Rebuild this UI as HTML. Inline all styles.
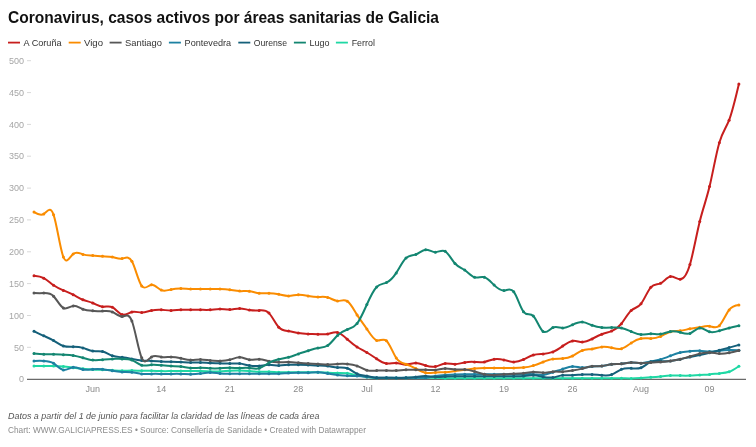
<!DOCTYPE html>
<html><head><meta charset="utf-8"><style>
html,body{margin:0;padding:0;background:#fff;width:756px;height:447px;overflow:hidden}
svg{display:block;will-change:transform;font-family:"Liberation Sans",sans-serif}
.yl{font-size:9px;fill:#a6a6a6;text-anchor:end}
.xl{font-size:9px;fill:#8a8a8a;text-anchor:middle}
.tk{stroke:#d9d9d9;stroke-width:1}
.lg{font-size:9.2px;fill:#333}
.ti{font-size:16px;font-weight:bold;fill:#111}
.no{font-size:9px;font-style:italic;fill:#555}
.cr{font-size:8.4px;fill:#8c8c8c}
</style></head><body>
<svg width="756" height="447" viewBox="0 0 756 447">
<text x="24" y="382.4" class="yl">0</text>
<text x="24" y="350.5" class="yl">50</text>
<line x1="27" x2="31" y1="347.3" y2="347.3" class="tk"/>
<text x="24" y="318.7" class="yl">100</text>
<line x1="27" x2="31" y1="315.5" y2="315.5" class="tk"/>
<text x="24" y="286.8" class="yl">150</text>
<line x1="27" x2="31" y1="283.6" y2="283.6" class="tk"/>
<text x="24" y="255.0" class="yl">200</text>
<line x1="27" x2="31" y1="251.8" y2="251.8" class="tk"/>
<text x="24" y="223.1" class="yl">250</text>
<line x1="27" x2="31" y1="219.9" y2="219.9" class="tk"/>
<text x="24" y="191.3" class="yl">300</text>
<line x1="27" x2="31" y1="188.1" y2="188.1" class="tk"/>
<text x="24" y="159.4" class="yl">350</text>
<line x1="27" x2="31" y1="156.2" y2="156.2" class="tk"/>
<text x="24" y="127.6" class="yl">400</text>
<line x1="27" x2="31" y1="124.4" y2="124.4" class="tk"/>
<text x="24" y="95.8" class="yl">450</text>
<line x1="27" x2="31" y1="92.6" y2="92.6" class="tk"/>
<text x="24" y="63.9" class="yl">500</text>
<line x1="27" x2="31" y1="60.7" y2="60.7" class="tk"/>
<text x="92.7" y="392" class="xl">Jun</text>
<text x="161.3" y="392" class="xl">14</text>
<text x="229.8" y="392" class="xl">21</text>
<text x="298.3" y="392" class="xl">28</text>
<text x="366.9" y="392" class="xl">Jul</text>
<text x="435.4" y="392" class="xl">12</text>
<text x="503.9" y="392" class="xl">19</text>
<text x="572.5" y="392" class="xl">26</text>
<text x="641.0" y="392" class="xl">Aug</text>
<text x="709.5" y="392" class="xl">09</text>
<line x1="27" x2="746" y1="379.4" y2="379.4" stroke="#6a6a6a" stroke-width="1.2"/>
<path d="M34.00,366.10C37.26,366.10,40.53,366.10,43.79,366.10C47.05,366.10,50.32,366.09,53.58,366.10C56.84,366.11,60.11,366.12,63.37,366.40C66.63,366.68,69.90,367.22,73.16,367.66C76.42,368.10,79.69,368.45,82.95,368.76C86.21,369.07,89.48,369.33,92.74,369.50C96.01,369.67,99.27,369.75,102.53,369.85C105.80,369.95,109.06,370.09,112.32,370.30C115.59,370.51,118.85,370.80,122.11,370.80C125.38,370.80,128.64,370.52,131.90,370.50C135.17,370.48,138.43,370.73,141.69,370.80C144.96,370.87,148.22,370.76,151.48,370.80C154.75,370.84,158.01,371.03,161.27,371.10C164.54,371.17,167.80,371.12,171.06,371.10C174.33,371.08,177.59,371.09,180.85,371.10C184.12,371.11,187.38,371.12,190.64,371.10C193.91,371.08,197.17,371.04,200.43,371.10C203.70,371.16,206.96,371.31,210.22,371.40C213.49,371.49,216.75,371.53,220.02,371.40C223.28,371.27,226.54,370.98,229.81,370.80C233.07,370.62,236.33,370.54,239.60,370.60C242.86,370.66,246.12,370.86,249.39,371.10C252.65,371.34,255.91,371.63,259.18,371.70C262.44,371.77,265.70,371.62,268.97,371.70C272.23,371.78,275.49,372.09,278.76,372.20C282.02,372.31,285.28,372.23,288.55,372.20C291.81,372.17,295.07,372.19,298.34,372.20C301.60,372.21,304.86,372.23,308.13,372.20C311.39,372.17,314.65,372.11,317.92,372.20C321.18,372.29,324.44,372.52,327.71,372.70C330.97,372.88,334.24,372.99,337.50,373.00C340.76,373.01,344.03,372.90,347.29,373.30C350.55,373.70,353.82,374.62,357.08,375.30C360.34,375.98,363.61,376.44,366.87,376.90C370.13,377.36,373.40,377.83,376.66,378.00C379.92,378.17,383.19,378.05,386.45,378.00C389.71,377.95,392.98,377.97,396.24,378.00C399.50,378.03,402.77,378.07,406.03,378.00C409.29,377.93,412.56,377.75,415.82,377.70C419.08,377.65,422.35,377.71,425.61,377.70C428.87,377.69,432.14,377.60,435.40,377.70C438.66,377.80,441.93,378.09,445.19,378.20C448.46,378.31,451.72,378.23,454.98,378.20C458.25,378.17,461.51,378.19,464.77,378.20C468.04,378.21,471.30,378.20,474.56,378.20C477.83,378.20,481.09,378.20,484.35,378.20C487.62,378.20,490.88,378.20,494.14,378.20C497.41,378.20,500.67,378.20,503.93,378.20C507.20,378.20,510.46,378.20,513.72,378.20C516.99,378.20,520.25,378.20,523.51,378.20C526.78,378.20,530.04,378.20,533.30,378.20C536.57,378.20,539.83,378.20,543.09,378.20C546.36,378.20,549.62,378.20,552.88,378.20C556.15,378.20,559.41,378.20,562.67,378.20C565.94,378.20,569.20,378.20,572.47,378.20C575.73,378.20,578.99,378.20,582.26,378.20C585.52,378.20,588.78,378.20,592.05,378.20C595.31,378.20,598.57,378.20,601.84,378.20C605.10,378.20,608.36,378.22,611.63,378.20C614.89,378.18,618.15,378.14,621.42,378.20C624.68,378.26,627.94,378.43,631.21,378.40C634.47,378.37,637.73,378.13,641.00,377.90C644.26,377.67,647.52,377.44,650.79,377.20C654.05,376.96,657.31,376.70,660.58,376.40C663.84,376.10,667.10,375.74,670.37,375.60C673.63,375.46,676.89,375.53,680.16,375.60C683.42,375.67,686.69,375.74,689.95,375.60C693.21,375.46,696.48,375.10,699.74,374.90C703.00,374.70,706.27,374.65,709.53,374.40C712.79,374.15,716.06,373.69,719.32,373.40C722.58,373.11,725.85,372.97,729.11,371.80C732.37,370.63,735.64,368.41,738.90,366.20" fill="none" stroke="#1fd8a4" stroke-width="2" stroke-linejoin="round" stroke-linecap="round"/>
<g fill="#1fd8a4"><circle cx="34.00" cy="366.10" r="1.5"/><circle cx="43.79" cy="366.10" r="1.5"/><circle cx="53.58" cy="366.10" r="1.5"/><circle cx="63.37" cy="366.40" r="1.5"/><circle cx="73.16" cy="367.66" r="1.5"/><circle cx="82.95" cy="368.76" r="1.5"/><circle cx="92.74" cy="369.50" r="1.5"/><circle cx="102.53" cy="369.85" r="1.5"/><circle cx="112.32" cy="370.30" r="1.5"/><circle cx="122.11" cy="370.80" r="1.5"/><circle cx="131.90" cy="370.50" r="1.5"/><circle cx="141.69" cy="370.80" r="1.5"/><circle cx="151.48" cy="370.80" r="1.5"/><circle cx="161.27" cy="371.10" r="1.5"/><circle cx="171.06" cy="371.10" r="1.5"/><circle cx="180.85" cy="371.10" r="1.5"/><circle cx="190.64" cy="371.10" r="1.5"/><circle cx="200.43" cy="371.10" r="1.5"/><circle cx="210.22" cy="371.40" r="1.5"/><circle cx="220.02" cy="371.40" r="1.5"/><circle cx="229.81" cy="370.80" r="1.5"/><circle cx="239.60" cy="370.60" r="1.5"/><circle cx="249.39" cy="371.10" r="1.5"/><circle cx="259.18" cy="371.70" r="1.5"/><circle cx="268.97" cy="371.70" r="1.5"/><circle cx="278.76" cy="372.20" r="1.5"/><circle cx="288.55" cy="372.20" r="1.5"/><circle cx="298.34" cy="372.20" r="1.5"/><circle cx="308.13" cy="372.20" r="1.5"/><circle cx="317.92" cy="372.20" r="1.5"/><circle cx="327.71" cy="372.70" r="1.5"/><circle cx="337.50" cy="373.00" r="1.5"/><circle cx="347.29" cy="373.30" r="1.5"/><circle cx="357.08" cy="375.30" r="1.5"/><circle cx="366.87" cy="376.90" r="1.5"/><circle cx="376.66" cy="378.00" r="1.5"/><circle cx="386.45" cy="378.00" r="1.5"/><circle cx="396.24" cy="378.00" r="1.5"/><circle cx="406.03" cy="378.00" r="1.5"/><circle cx="415.82" cy="377.70" r="1.5"/><circle cx="425.61" cy="377.70" r="1.5"/><circle cx="435.40" cy="377.70" r="1.5"/><circle cx="445.19" cy="378.20" r="1.5"/><circle cx="454.98" cy="378.20" r="1.5"/><circle cx="464.77" cy="378.20" r="1.5"/><circle cx="474.56" cy="378.20" r="1.5"/><circle cx="484.35" cy="378.20" r="1.5"/><circle cx="494.14" cy="378.20" r="1.5"/><circle cx="503.93" cy="378.20" r="1.5"/><circle cx="513.72" cy="378.20" r="1.5"/><circle cx="523.51" cy="378.20" r="1.5"/><circle cx="533.30" cy="378.20" r="1.5"/><circle cx="543.09" cy="378.20" r="1.5"/><circle cx="552.88" cy="378.20" r="1.5"/><circle cx="562.67" cy="378.20" r="1.5"/><circle cx="572.47" cy="378.20" r="1.5"/><circle cx="582.26" cy="378.20" r="1.5"/><circle cx="592.05" cy="378.20" r="1.5"/><circle cx="601.84" cy="378.20" r="1.5"/><circle cx="611.63" cy="378.20" r="1.5"/><circle cx="621.42" cy="378.20" r="1.5"/><circle cx="631.21" cy="378.40" r="1.5"/><circle cx="641.00" cy="377.90" r="1.5"/><circle cx="650.79" cy="377.20" r="1.5"/><circle cx="660.58" cy="376.40" r="1.5"/><circle cx="670.37" cy="375.60" r="1.5"/><circle cx="680.16" cy="375.60" r="1.5"/><circle cx="689.95" cy="375.60" r="1.5"/><circle cx="699.74" cy="374.90" r="1.5"/><circle cx="709.53" cy="374.40" r="1.5"/><circle cx="719.32" cy="373.40" r="1.5"/><circle cx="729.11" cy="371.80" r="1.5"/><circle cx="738.90" cy="366.20" r="1.5"/></g>
<path d="M34.00,275.85C37.26,276.17,40.53,276.49,43.79,278.20C47.05,279.91,50.32,283.02,53.58,285.30C56.84,287.58,60.11,289.04,63.37,290.40C66.63,291.76,69.90,293.02,73.16,294.70C76.42,296.38,79.69,298.47,82.95,299.80C86.21,301.13,89.48,301.68,92.74,303.00C96.01,304.32,99.27,306.39,102.53,306.70C105.80,307.01,109.06,305.55,112.32,307.20C115.59,308.85,118.85,313.62,122.11,314.60C125.38,315.58,128.64,312.77,131.90,312.00C135.17,311.23,138.43,312.50,141.69,312.50C144.96,312.50,148.22,311.22,151.48,310.50C154.75,309.78,158.01,309.62,161.27,309.80C164.54,309.98,167.80,310.50,171.06,310.50C174.33,310.50,177.59,309.98,180.85,309.80C184.12,309.62,187.38,309.77,190.64,309.80C193.91,309.83,197.17,309.75,200.43,309.80C203.70,309.85,206.96,310.05,210.22,309.80C213.49,309.55,216.75,308.85,220.02,308.90C223.28,308.95,226.54,309.74,229.81,309.60C233.07,309.46,236.33,308.40,239.60,308.40C242.86,308.40,246.12,309.45,249.39,310.00C252.65,310.55,255.91,310.60,259.18,310.40C262.44,310.20,265.70,309.74,268.97,313.10C272.23,316.46,275.49,323.65,278.76,327.20C282.02,330.75,285.28,330.68,288.55,331.10C291.81,331.52,295.07,332.43,298.34,333.00C301.60,333.57,304.86,333.78,308.13,333.90C311.39,334.02,314.65,334.04,317.92,334.20C321.18,334.36,324.44,334.65,327.71,334.00C330.97,333.35,334.24,331.77,337.50,332.50C340.76,333.23,344.03,336.29,347.29,339.20C350.55,342.11,353.82,344.87,357.08,347.00C360.34,349.13,363.61,350.62,366.87,352.50C370.13,354.38,373.40,356.64,376.66,358.80C379.92,360.96,383.19,363.03,386.45,363.50C389.71,363.97,392.98,362.83,396.24,363.00C399.50,363.17,402.77,364.63,406.03,364.60C409.29,364.57,412.56,363.03,415.82,363.00C419.08,362.97,422.35,364.45,425.61,365.50C428.87,366.55,432.14,367.16,435.40,366.50C438.66,365.84,441.93,363.90,445.19,363.50C448.46,363.10,451.72,364.22,454.98,364.20C458.25,364.18,461.51,363.01,464.77,362.40C468.04,361.79,471.30,361.73,474.56,361.90C477.83,362.07,481.09,362.48,484.35,361.90C487.62,361.32,490.88,359.75,494.14,359.20C497.41,358.65,500.67,359.11,503.93,359.90C507.20,360.69,510.46,361.82,513.72,361.90C516.99,361.98,520.25,361.00,523.51,359.50C526.78,358.00,530.04,355.97,533.30,355.00C536.57,354.03,539.83,354.10,543.09,353.90C546.36,353.70,549.62,353.22,552.88,351.90C556.15,350.58,559.41,348.41,562.67,346.10C565.94,343.79,569.20,341.36,572.47,340.90C575.73,340.44,578.99,341.97,582.26,342.00C585.52,342.03,588.78,340.55,592.05,338.90C595.31,337.25,598.57,335.41,601.84,334.20C605.10,332.99,608.36,332.40,611.63,331.10C614.89,329.80,618.15,327.80,621.42,323.70C624.68,319.60,627.94,313.41,631.21,310.50C634.47,307.59,637.73,307.95,641.00,303.80C644.26,299.65,647.52,290.98,650.79,287.30C654.05,283.62,657.31,284.91,660.58,283.30C663.84,281.69,667.10,277.17,670.37,276.60C673.63,276.03,676.89,279.41,680.16,279.30C683.42,279.19,686.69,275.60,689.95,264.50C693.21,253.40,696.48,234.80,699.74,221.50C703.00,208.20,706.27,200.20,709.53,186.60C712.79,173.00,716.06,153.80,719.32,142.70C722.58,131.60,725.85,128.62,729.11,120.20C732.37,111.78,735.64,97.94,738.90,84.10" fill="none" stroke="#c71e1d" stroke-width="2" stroke-linejoin="round" stroke-linecap="round"/>
<g fill="#c71e1d"><circle cx="34.00" cy="275.85" r="1.5"/><circle cx="43.79" cy="278.20" r="1.5"/><circle cx="53.58" cy="285.30" r="1.5"/><circle cx="63.37" cy="290.40" r="1.5"/><circle cx="73.16" cy="294.70" r="1.5"/><circle cx="82.95" cy="299.80" r="1.5"/><circle cx="92.74" cy="303.00" r="1.5"/><circle cx="102.53" cy="306.70" r="1.5"/><circle cx="112.32" cy="307.20" r="1.5"/><circle cx="122.11" cy="314.60" r="1.5"/><circle cx="131.90" cy="312.00" r="1.5"/><circle cx="141.69" cy="312.50" r="1.5"/><circle cx="151.48" cy="310.50" r="1.5"/><circle cx="161.27" cy="309.80" r="1.5"/><circle cx="171.06" cy="310.50" r="1.5"/><circle cx="180.85" cy="309.80" r="1.5"/><circle cx="190.64" cy="309.80" r="1.5"/><circle cx="200.43" cy="309.80" r="1.5"/><circle cx="210.22" cy="309.80" r="1.5"/><circle cx="220.02" cy="308.90" r="1.5"/><circle cx="229.81" cy="309.60" r="1.5"/><circle cx="239.60" cy="308.40" r="1.5"/><circle cx="249.39" cy="310.00" r="1.5"/><circle cx="259.18" cy="310.40" r="1.5"/><circle cx="268.97" cy="313.10" r="1.5"/><circle cx="278.76" cy="327.20" r="1.5"/><circle cx="288.55" cy="331.10" r="1.5"/><circle cx="298.34" cy="333.00" r="1.5"/><circle cx="308.13" cy="333.90" r="1.5"/><circle cx="317.92" cy="334.20" r="1.5"/><circle cx="327.71" cy="334.00" r="1.5"/><circle cx="337.50" cy="332.50" r="1.5"/><circle cx="347.29" cy="339.20" r="1.5"/><circle cx="357.08" cy="347.00" r="1.5"/><circle cx="366.87" cy="352.50" r="1.5"/><circle cx="376.66" cy="358.80" r="1.5"/><circle cx="386.45" cy="363.50" r="1.5"/><circle cx="396.24" cy="363.00" r="1.5"/><circle cx="406.03" cy="364.60" r="1.5"/><circle cx="415.82" cy="363.00" r="1.5"/><circle cx="425.61" cy="365.50" r="1.5"/><circle cx="435.40" cy="366.50" r="1.5"/><circle cx="445.19" cy="363.50" r="1.5"/><circle cx="454.98" cy="364.20" r="1.5"/><circle cx="464.77" cy="362.40" r="1.5"/><circle cx="474.56" cy="361.90" r="1.5"/><circle cx="484.35" cy="361.90" r="1.5"/><circle cx="494.14" cy="359.20" r="1.5"/><circle cx="503.93" cy="359.90" r="1.5"/><circle cx="513.72" cy="361.90" r="1.5"/><circle cx="523.51" cy="359.50" r="1.5"/><circle cx="533.30" cy="355.00" r="1.5"/><circle cx="543.09" cy="353.90" r="1.5"/><circle cx="552.88" cy="351.90" r="1.5"/><circle cx="562.67" cy="346.10" r="1.5"/><circle cx="572.47" cy="340.90" r="1.5"/><circle cx="582.26" cy="342.00" r="1.5"/><circle cx="592.05" cy="338.90" r="1.5"/><circle cx="601.84" cy="334.20" r="1.5"/><circle cx="611.63" cy="331.10" r="1.5"/><circle cx="621.42" cy="323.70" r="1.5"/><circle cx="631.21" cy="310.50" r="1.5"/><circle cx="641.00" cy="303.80" r="1.5"/><circle cx="650.79" cy="287.30" r="1.5"/><circle cx="660.58" cy="283.30" r="1.5"/><circle cx="670.37" cy="276.60" r="1.5"/><circle cx="680.16" cy="279.30" r="1.5"/><circle cx="689.95" cy="264.50" r="1.5"/><circle cx="699.74" cy="221.50" r="1.5"/><circle cx="709.53" cy="186.60" r="1.5"/><circle cx="719.32" cy="142.70" r="1.5"/><circle cx="729.11" cy="120.20" r="1.5"/><circle cx="738.90" cy="84.10" r="1.5"/></g>
<path d="M34.00,212.10C37.26,214.07,40.53,216.03,43.79,213.90C47.05,211.77,50.32,205.54,53.58,214.80C56.84,224.06,60.11,248.79,63.37,257.00C66.63,265.21,69.90,256.88,73.16,253.90C76.42,250.92,79.69,253.29,82.95,254.40C86.21,255.51,89.48,255.34,92.74,255.50C96.01,255.66,99.27,256.13,102.53,256.30C105.80,256.47,109.06,256.33,112.32,257.00C115.59,257.67,118.85,259.15,122.11,258.60C125.38,258.05,128.64,255.47,131.90,261.30C135.17,267.13,138.43,281.37,141.69,285.90C144.96,290.43,148.22,285.25,151.48,284.80C154.75,284.35,158.01,288.62,161.27,290.10C164.54,291.58,167.80,290.28,171.06,289.50C174.33,288.72,177.59,288.46,180.85,288.50C184.12,288.54,187.38,288.88,190.64,289.00C193.91,289.12,197.17,289.03,200.43,289.00C203.70,288.97,206.96,289.01,210.22,289.00C213.49,288.99,216.75,288.94,220.02,289.00C223.28,289.06,226.54,289.23,229.81,289.70C233.07,290.17,236.33,290.94,239.60,291.10C242.86,291.26,246.12,290.82,249.39,291.20C252.65,291.58,255.91,292.80,259.18,293.20C262.44,293.60,265.70,293.19,268.97,293.20C272.23,293.21,275.49,293.62,278.76,294.30C282.02,294.98,285.28,295.91,288.55,295.90C291.81,295.89,295.07,294.95,298.34,294.80C301.60,294.65,304.86,295.31,308.13,295.90C311.39,296.49,314.65,297.01,317.92,297.00C321.18,296.99,324.44,296.44,327.71,297.40C330.97,298.36,334.24,300.82,337.50,301.00C340.76,301.18,344.03,299.07,347.29,301.20C350.55,303.33,353.82,309.69,357.08,314.90C360.34,320.11,363.61,324.17,366.87,329.00C370.13,333.83,373.40,339.41,376.66,340.40C379.92,341.39,383.19,337.77,386.45,340.70C389.71,343.63,392.98,353.11,396.24,358.00C399.50,362.89,402.77,363.20,406.03,364.20C409.29,365.20,412.56,366.87,415.82,368.60C419.08,370.33,422.35,372.10,425.61,372.70C428.87,373.30,432.14,372.73,435.40,372.50C438.66,372.27,441.93,372.38,445.19,372.20C448.46,372.02,451.72,371.54,454.98,371.10C458.25,370.66,461.51,370.24,464.77,369.80C468.04,369.36,471.30,368.90,474.56,368.60C477.83,368.30,481.09,368.17,484.35,368.10C487.62,368.03,490.88,368.01,494.14,368.00C497.41,367.99,500.67,367.99,503.93,368.00C507.20,368.01,510.46,368.01,513.72,368.00C516.99,367.99,520.25,367.95,523.51,367.60C526.78,367.25,530.04,366.59,533.30,365.60C536.57,364.61,539.83,363.28,543.09,362.00C546.36,360.72,549.62,359.48,552.88,359.00C556.15,358.52,559.41,358.81,562.67,358.60C565.94,358.39,569.20,357.67,572.47,356.00C575.73,354.33,578.99,351.71,582.26,350.50C585.52,349.29,588.78,349.51,592.05,349.00C595.31,348.49,598.57,347.26,601.84,346.90C605.10,346.54,608.36,347.05,611.63,347.80C614.89,348.55,618.15,349.55,621.42,348.70C624.68,347.85,627.94,345.16,631.21,343.00C634.47,340.84,637.73,339.20,641.00,338.60C644.26,338.00,647.52,338.45,650.79,338.40C654.05,338.35,657.31,337.80,660.58,336.40C663.84,335.00,667.10,332.76,670.37,331.80C673.63,330.84,676.89,331.15,680.16,330.80C683.42,330.45,686.69,329.43,689.95,328.80C693.21,328.17,696.48,327.93,699.74,327.30C703.00,326.67,706.27,325.66,709.53,326.20C712.79,326.74,716.06,328.83,719.32,325.70C722.58,322.57,725.85,314.22,729.11,309.90C732.37,305.58,735.64,305.29,738.90,305.00" fill="none" stroke="#fa8c00" stroke-width="2" stroke-linejoin="round" stroke-linecap="round"/>
<g fill="#fa8c00"><circle cx="34.00" cy="212.10" r="1.5"/><circle cx="43.79" cy="213.90" r="1.5"/><circle cx="53.58" cy="214.80" r="1.5"/><circle cx="63.37" cy="257.00" r="1.5"/><circle cx="73.16" cy="253.90" r="1.5"/><circle cx="82.95" cy="254.40" r="1.5"/><circle cx="92.74" cy="255.50" r="1.5"/><circle cx="102.53" cy="256.30" r="1.5"/><circle cx="112.32" cy="257.00" r="1.5"/><circle cx="122.11" cy="258.60" r="1.5"/><circle cx="131.90" cy="261.30" r="1.5"/><circle cx="141.69" cy="285.90" r="1.5"/><circle cx="151.48" cy="284.80" r="1.5"/><circle cx="161.27" cy="290.10" r="1.5"/><circle cx="171.06" cy="289.50" r="1.5"/><circle cx="180.85" cy="288.50" r="1.5"/><circle cx="190.64" cy="289.00" r="1.5"/><circle cx="200.43" cy="289.00" r="1.5"/><circle cx="210.22" cy="289.00" r="1.5"/><circle cx="220.02" cy="289.00" r="1.5"/><circle cx="229.81" cy="289.70" r="1.5"/><circle cx="239.60" cy="291.10" r="1.5"/><circle cx="249.39" cy="291.20" r="1.5"/><circle cx="259.18" cy="293.20" r="1.5"/><circle cx="268.97" cy="293.20" r="1.5"/><circle cx="278.76" cy="294.30" r="1.5"/><circle cx="288.55" cy="295.90" r="1.5"/><circle cx="298.34" cy="294.80" r="1.5"/><circle cx="308.13" cy="295.90" r="1.5"/><circle cx="317.92" cy="297.00" r="1.5"/><circle cx="327.71" cy="297.40" r="1.5"/><circle cx="337.50" cy="301.00" r="1.5"/><circle cx="347.29" cy="301.20" r="1.5"/><circle cx="357.08" cy="314.90" r="1.5"/><circle cx="366.87" cy="329.00" r="1.5"/><circle cx="376.66" cy="340.40" r="1.5"/><circle cx="386.45" cy="340.70" r="1.5"/><circle cx="396.24" cy="358.00" r="1.5"/><circle cx="406.03" cy="364.20" r="1.5"/><circle cx="415.82" cy="368.60" r="1.5"/><circle cx="425.61" cy="372.70" r="1.5"/><circle cx="435.40" cy="372.50" r="1.5"/><circle cx="445.19" cy="372.20" r="1.5"/><circle cx="454.98" cy="371.10" r="1.5"/><circle cx="464.77" cy="369.80" r="1.5"/><circle cx="474.56" cy="368.60" r="1.5"/><circle cx="484.35" cy="368.10" r="1.5"/><circle cx="494.14" cy="368.00" r="1.5"/><circle cx="503.93" cy="368.00" r="1.5"/><circle cx="513.72" cy="368.00" r="1.5"/><circle cx="523.51" cy="367.60" r="1.5"/><circle cx="533.30" cy="365.60" r="1.5"/><circle cx="543.09" cy="362.00" r="1.5"/><circle cx="552.88" cy="359.00" r="1.5"/><circle cx="562.67" cy="358.60" r="1.5"/><circle cx="572.47" cy="356.00" r="1.5"/><circle cx="582.26" cy="350.50" r="1.5"/><circle cx="592.05" cy="349.00" r="1.5"/><circle cx="601.84" cy="346.90" r="1.5"/><circle cx="611.63" cy="347.80" r="1.5"/><circle cx="621.42" cy="348.70" r="1.5"/><circle cx="631.21" cy="343.00" r="1.5"/><circle cx="641.00" cy="338.60" r="1.5"/><circle cx="650.79" cy="338.40" r="1.5"/><circle cx="660.58" cy="336.40" r="1.5"/><circle cx="670.37" cy="331.80" r="1.5"/><circle cx="680.16" cy="330.80" r="1.5"/><circle cx="689.95" cy="328.80" r="1.5"/><circle cx="699.74" cy="327.30" r="1.5"/><circle cx="709.53" cy="326.20" r="1.5"/><circle cx="719.32" cy="325.70" r="1.5"/><circle cx="729.11" cy="309.90" r="1.5"/><circle cx="738.90" cy="305.00" r="1.5"/></g>
<path d="M34.00,360.90C37.26,360.86,40.53,360.81,43.79,360.90C47.05,360.99,50.32,361.21,53.58,363.30C56.84,365.39,60.11,369.34,63.37,369.90C66.63,370.46,69.90,367.61,73.16,367.20C76.42,366.79,79.69,368.81,82.95,369.50C86.21,370.19,89.48,369.53,92.74,369.20C96.01,368.87,99.27,368.86,102.53,369.20C105.80,369.54,109.06,370.24,112.32,370.80C115.59,371.36,118.85,371.79,122.11,371.90C125.38,372.01,128.64,371.82,131.90,372.20C135.17,372.58,138.43,373.55,141.69,373.90C144.96,374.25,148.22,374.00,151.48,373.90C154.75,373.80,158.01,373.87,161.27,373.90C164.54,373.93,167.80,373.93,171.06,373.90C174.33,373.87,177.59,373.82,180.85,373.90C184.12,373.98,187.38,374.21,190.64,374.20C193.91,374.19,197.17,373.95,200.43,373.50C203.70,373.05,206.96,372.37,210.22,372.40C213.49,372.43,216.75,373.15,220.02,373.50C223.28,373.85,226.54,373.84,229.81,373.80C233.07,373.76,236.33,373.70,239.60,373.70C242.86,373.70,246.12,373.77,249.39,373.80C252.65,373.83,255.91,373.82,259.18,373.80C262.44,373.78,265.70,373.76,268.97,373.80C272.23,373.84,275.49,373.95,278.76,373.80C282.02,373.65,285.28,373.24,288.55,373.00C291.81,372.76,295.07,372.67,298.34,372.70C301.60,372.73,304.86,372.86,308.13,372.70C311.39,372.54,314.65,372.10,317.92,372.20C321.18,372.30,324.44,372.95,327.71,373.50C330.97,374.05,334.24,374.50,337.50,374.90C340.76,375.30,344.03,375.64,347.29,375.80C350.55,375.96,353.82,375.95,357.08,376.10C360.34,376.25,363.61,376.57,366.87,376.90C370.13,377.23,373.40,377.57,376.66,377.70C379.92,377.83,383.19,377.74,386.45,377.70C389.71,377.66,392.98,377.69,396.24,377.70C399.50,377.71,402.77,377.72,406.03,377.70C409.29,377.68,412.56,377.62,415.82,377.70C419.08,377.78,422.35,378.01,425.61,377.70C428.87,377.39,432.14,376.55,435.40,376.00C438.66,375.45,441.93,375.21,445.19,375.00C448.46,374.79,451.72,374.62,454.98,374.50C458.25,374.38,461.51,374.32,464.77,374.30C468.04,374.28,471.30,374.29,474.56,374.30C477.83,374.31,481.09,374.30,484.35,374.30C487.62,374.30,490.88,374.30,494.14,374.30C497.41,374.30,500.67,374.31,503.93,374.30C507.20,374.29,510.46,374.28,513.72,374.30C516.99,374.32,520.25,374.39,523.51,374.30C526.78,374.21,530.04,373.95,533.30,374.20C536.57,374.45,539.83,375.19,543.09,374.90C546.36,374.61,549.62,373.29,552.88,372.20C556.15,371.11,559.41,370.24,562.67,369.10C565.94,367.96,569.20,366.55,572.47,366.40C575.73,366.25,578.99,367.36,582.26,367.50C585.52,367.64,588.78,366.82,592.05,366.50C595.31,366.18,598.57,366.38,601.84,366.00C605.10,365.62,608.36,364.67,611.63,364.30C614.89,363.93,618.15,364.15,621.42,363.80C624.68,363.45,627.94,362.54,631.21,362.50C634.47,362.46,637.73,363.30,641.00,363.20C644.26,363.10,647.52,362.08,650.79,361.40C654.05,360.72,657.31,360.39,660.58,359.50C663.84,358.61,667.10,357.18,670.37,355.80C673.63,354.42,676.89,353.11,680.16,352.40C683.42,351.69,686.69,351.58,689.95,351.30C693.21,351.02,696.48,350.57,699.74,350.70C703.00,350.83,706.27,351.53,709.53,351.60C712.79,351.67,716.06,351.10,719.32,350.70C722.58,350.30,725.85,350.06,729.11,350.00C732.37,349.94,735.64,350.07,738.90,350.20" fill="none" stroke="#1d81a2" stroke-width="2" stroke-linejoin="round" stroke-linecap="round"/>
<g fill="#1d81a2"><circle cx="34.00" cy="360.90" r="1.5"/><circle cx="43.79" cy="360.90" r="1.5"/><circle cx="53.58" cy="363.30" r="1.5"/><circle cx="63.37" cy="369.90" r="1.5"/><circle cx="73.16" cy="367.20" r="1.5"/><circle cx="82.95" cy="369.50" r="1.5"/><circle cx="92.74" cy="369.20" r="1.5"/><circle cx="102.53" cy="369.20" r="1.5"/><circle cx="112.32" cy="370.80" r="1.5"/><circle cx="122.11" cy="371.90" r="1.5"/><circle cx="131.90" cy="372.20" r="1.5"/><circle cx="141.69" cy="373.90" r="1.5"/><circle cx="151.48" cy="373.90" r="1.5"/><circle cx="161.27" cy="373.90" r="1.5"/><circle cx="171.06" cy="373.90" r="1.5"/><circle cx="180.85" cy="373.90" r="1.5"/><circle cx="190.64" cy="374.20" r="1.5"/><circle cx="200.43" cy="373.50" r="1.5"/><circle cx="210.22" cy="372.40" r="1.5"/><circle cx="220.02" cy="373.50" r="1.5"/><circle cx="229.81" cy="373.80" r="1.5"/><circle cx="239.60" cy="373.70" r="1.5"/><circle cx="249.39" cy="373.80" r="1.5"/><circle cx="259.18" cy="373.80" r="1.5"/><circle cx="268.97" cy="373.80" r="1.5"/><circle cx="278.76" cy="373.80" r="1.5"/><circle cx="288.55" cy="373.00" r="1.5"/><circle cx="298.34" cy="372.70" r="1.5"/><circle cx="308.13" cy="372.70" r="1.5"/><circle cx="317.92" cy="372.20" r="1.5"/><circle cx="327.71" cy="373.50" r="1.5"/><circle cx="337.50" cy="374.90" r="1.5"/><circle cx="347.29" cy="375.80" r="1.5"/><circle cx="357.08" cy="376.10" r="1.5"/><circle cx="366.87" cy="376.90" r="1.5"/><circle cx="376.66" cy="377.70" r="1.5"/><circle cx="386.45" cy="377.70" r="1.5"/><circle cx="396.24" cy="377.70" r="1.5"/><circle cx="406.03" cy="377.70" r="1.5"/><circle cx="415.82" cy="377.70" r="1.5"/><circle cx="425.61" cy="377.70" r="1.5"/><circle cx="435.40" cy="376.00" r="1.5"/><circle cx="445.19" cy="375.00" r="1.5"/><circle cx="454.98" cy="374.50" r="1.5"/><circle cx="464.77" cy="374.30" r="1.5"/><circle cx="474.56" cy="374.30" r="1.5"/><circle cx="484.35" cy="374.30" r="1.5"/><circle cx="494.14" cy="374.30" r="1.5"/><circle cx="503.93" cy="374.30" r="1.5"/><circle cx="513.72" cy="374.30" r="1.5"/><circle cx="523.51" cy="374.30" r="1.5"/><circle cx="533.30" cy="374.20" r="1.5"/><circle cx="543.09" cy="374.90" r="1.5"/><circle cx="552.88" cy="372.20" r="1.5"/><circle cx="562.67" cy="369.10" r="1.5"/><circle cx="572.47" cy="366.40" r="1.5"/><circle cx="582.26" cy="367.50" r="1.5"/><circle cx="592.05" cy="366.50" r="1.5"/><circle cx="601.84" cy="366.00" r="1.5"/><circle cx="611.63" cy="364.30" r="1.5"/><circle cx="621.42" cy="363.80" r="1.5"/><circle cx="631.21" cy="362.50" r="1.5"/><circle cx="641.00" cy="363.20" r="1.5"/><circle cx="650.79" cy="361.40" r="1.5"/><circle cx="660.58" cy="359.50" r="1.5"/><circle cx="670.37" cy="355.80" r="1.5"/><circle cx="680.16" cy="352.40" r="1.5"/><circle cx="689.95" cy="351.30" r="1.5"/><circle cx="699.74" cy="350.70" r="1.5"/><circle cx="709.53" cy="351.60" r="1.5"/><circle cx="719.32" cy="350.70" r="1.5"/><circle cx="729.11" cy="350.00" r="1.5"/><circle cx="738.90" cy="350.20" r="1.5"/></g>
<path d="M34.00,331.15C37.26,332.76,40.53,334.38,43.79,335.85C47.05,337.32,50.32,338.65,53.58,340.55C56.84,342.45,60.11,344.94,63.37,346.04C66.63,347.14,69.90,346.87,73.16,346.82C76.42,346.77,79.69,346.95,82.95,347.90C86.21,348.85,89.48,350.58,92.74,351.05C96.01,351.52,99.27,350.74,102.53,351.50C105.80,352.26,109.06,354.57,112.32,355.75C115.59,356.93,118.85,356.97,122.11,357.30C125.38,357.63,128.64,358.26,131.90,358.90C135.17,359.54,138.43,360.19,141.69,360.50C144.96,360.81,148.22,360.79,151.48,360.90C154.75,361.01,158.01,361.24,161.27,361.40C164.54,361.56,167.80,361.63,171.06,361.70C174.33,361.77,177.59,361.83,180.85,362.00C184.12,362.17,187.38,362.43,190.64,362.50C193.91,362.57,197.17,362.43,200.43,362.50C203.70,362.57,206.96,362.85,210.22,363.00C213.49,363.15,216.75,363.18,220.02,363.30C223.28,363.42,226.54,363.64,229.81,363.60C233.07,363.56,236.33,363.26,239.60,363.60C242.86,363.94,246.12,364.93,249.39,365.50C252.65,366.07,255.91,366.21,259.18,365.90C262.44,365.59,265.70,364.84,268.97,364.80C272.23,364.76,275.49,365.44,278.76,365.50C282.02,365.56,285.28,365.01,288.55,364.80C291.81,364.59,295.07,364.70,298.34,364.80C301.60,364.90,304.86,364.97,308.13,365.10C311.39,365.23,314.65,365.42,317.92,365.50C321.18,365.58,324.44,365.57,327.71,366.00C330.97,366.43,334.24,367.32,337.50,367.50C340.76,367.68,344.03,367.15,347.29,368.30C350.55,369.45,353.82,372.27,357.08,373.80C360.34,375.33,363.61,375.58,366.87,376.10C370.13,376.62,373.40,377.43,376.66,377.70C379.92,377.97,383.19,377.70,386.45,377.70C389.71,377.70,392.98,377.95,396.24,378.00C399.50,378.05,402.77,377.89,406.03,377.70C409.29,377.51,412.56,377.27,415.82,376.90C419.08,376.53,422.35,376.02,425.61,376.10C428.87,376.18,432.14,376.86,435.40,377.00C438.66,377.14,441.93,376.73,445.19,376.50C448.46,376.27,451.72,376.22,454.98,376.20C458.25,376.18,461.51,376.19,464.77,376.20C468.04,376.21,471.30,376.20,474.56,376.20C477.83,376.20,481.09,376.20,484.35,376.20C487.62,376.20,490.88,376.20,494.14,376.20C497.41,376.20,500.67,376.20,503.93,376.20C507.20,376.20,510.46,376.18,513.72,376.20C516.99,376.22,520.25,376.26,523.51,376.00C526.78,375.74,530.04,375.16,533.30,375.30C536.57,375.44,539.83,376.30,543.09,376.90C546.36,377.50,549.62,377.85,552.88,377.40C556.15,376.95,559.41,375.70,562.67,375.30C565.94,374.90,569.20,375.35,572.47,375.30C575.73,375.25,578.99,374.70,582.26,374.50C585.52,374.30,588.78,374.44,592.05,374.60C595.31,374.76,598.57,374.94,601.84,375.20C605.10,375.46,608.36,375.80,611.63,374.60C614.89,373.40,618.15,370.65,621.42,369.30C624.68,367.95,627.94,368.00,631.21,368.30C634.47,368.60,637.73,369.13,641.00,367.80C644.26,366.47,647.52,363.26,650.79,361.90C654.05,360.54,657.31,361.02,660.58,361.20C663.84,361.38,667.10,361.26,670.37,360.90C673.63,360.54,676.89,359.93,680.16,359.20C683.42,358.47,686.69,357.61,689.95,356.90C693.21,356.19,696.48,355.64,699.74,355.00C703.00,354.36,706.27,353.62,709.53,352.80C712.79,351.98,716.06,351.08,719.32,350.20C722.58,349.32,725.85,348.48,729.11,347.60C732.37,346.72,735.64,345.81,738.90,344.90" fill="none" stroke="#15607a" stroke-width="2" stroke-linejoin="round" stroke-linecap="round"/>
<g fill="#15607a"><circle cx="34.00" cy="331.15" r="1.5"/><circle cx="43.79" cy="335.85" r="1.5"/><circle cx="53.58" cy="340.55" r="1.5"/><circle cx="63.37" cy="346.04" r="1.5"/><circle cx="73.16" cy="346.82" r="1.5"/><circle cx="82.95" cy="347.90" r="1.5"/><circle cx="92.74" cy="351.05" r="1.5"/><circle cx="102.53" cy="351.50" r="1.5"/><circle cx="112.32" cy="355.75" r="1.5"/><circle cx="122.11" cy="357.30" r="1.5"/><circle cx="131.90" cy="358.90" r="1.5"/><circle cx="141.69" cy="360.50" r="1.5"/><circle cx="151.48" cy="360.90" r="1.5"/><circle cx="161.27" cy="361.40" r="1.5"/><circle cx="171.06" cy="361.70" r="1.5"/><circle cx="180.85" cy="362.00" r="1.5"/><circle cx="190.64" cy="362.50" r="1.5"/><circle cx="200.43" cy="362.50" r="1.5"/><circle cx="210.22" cy="363.00" r="1.5"/><circle cx="220.02" cy="363.30" r="1.5"/><circle cx="229.81" cy="363.60" r="1.5"/><circle cx="239.60" cy="363.60" r="1.5"/><circle cx="249.39" cy="365.50" r="1.5"/><circle cx="259.18" cy="365.90" r="1.5"/><circle cx="268.97" cy="364.80" r="1.5"/><circle cx="278.76" cy="365.50" r="1.5"/><circle cx="288.55" cy="364.80" r="1.5"/><circle cx="298.34" cy="364.80" r="1.5"/><circle cx="308.13" cy="365.10" r="1.5"/><circle cx="317.92" cy="365.50" r="1.5"/><circle cx="327.71" cy="366.00" r="1.5"/><circle cx="337.50" cy="367.50" r="1.5"/><circle cx="347.29" cy="368.30" r="1.5"/><circle cx="357.08" cy="373.80" r="1.5"/><circle cx="366.87" cy="376.10" r="1.5"/><circle cx="376.66" cy="377.70" r="1.5"/><circle cx="386.45" cy="377.70" r="1.5"/><circle cx="396.24" cy="378.00" r="1.5"/><circle cx="406.03" cy="377.70" r="1.5"/><circle cx="415.82" cy="376.90" r="1.5"/><circle cx="425.61" cy="376.10" r="1.5"/><circle cx="435.40" cy="377.00" r="1.5"/><circle cx="445.19" cy="376.50" r="1.5"/><circle cx="454.98" cy="376.20" r="1.5"/><circle cx="464.77" cy="376.20" r="1.5"/><circle cx="474.56" cy="376.20" r="1.5"/><circle cx="484.35" cy="376.20" r="1.5"/><circle cx="494.14" cy="376.20" r="1.5"/><circle cx="503.93" cy="376.20" r="1.5"/><circle cx="513.72" cy="376.20" r="1.5"/><circle cx="523.51" cy="376.00" r="1.5"/><circle cx="533.30" cy="375.30" r="1.5"/><circle cx="543.09" cy="376.90" r="1.5"/><circle cx="552.88" cy="377.40" r="1.5"/><circle cx="562.67" cy="375.30" r="1.5"/><circle cx="572.47" cy="375.30" r="1.5"/><circle cx="582.26" cy="374.50" r="1.5"/><circle cx="592.05" cy="374.60" r="1.5"/><circle cx="601.84" cy="375.20" r="1.5"/><circle cx="611.63" cy="374.60" r="1.5"/><circle cx="621.42" cy="369.30" r="1.5"/><circle cx="631.21" cy="368.30" r="1.5"/><circle cx="641.00" cy="367.80" r="1.5"/><circle cx="650.79" cy="361.90" r="1.5"/><circle cx="660.58" cy="361.20" r="1.5"/><circle cx="670.37" cy="360.90" r="1.5"/><circle cx="680.16" cy="359.20" r="1.5"/><circle cx="689.95" cy="356.90" r="1.5"/><circle cx="699.74" cy="355.00" r="1.5"/><circle cx="709.53" cy="352.80" r="1.5"/><circle cx="719.32" cy="350.20" r="1.5"/><circle cx="729.11" cy="347.60" r="1.5"/><circle cx="738.90" cy="344.90" r="1.5"/></g>
<path d="M34.00,293.10C37.26,293.13,40.53,293.16,43.79,293.10C47.05,293.04,50.32,292.89,53.58,296.20C56.84,299.51,60.11,306.29,63.37,308.00C66.63,309.71,69.90,306.35,73.16,305.90C76.42,305.45,79.69,307.91,82.95,309.20C86.21,310.49,89.48,310.61,92.74,310.80C96.01,310.99,99.27,311.24,102.53,311.10C105.80,310.96,109.06,310.44,112.32,311.90C115.59,313.36,118.85,316.82,122.11,316.60C125.38,316.38,128.64,312.50,131.90,321.00C135.17,329.50,138.43,350.38,141.69,357.80C144.96,365.22,148.22,359.19,151.48,357.00C154.75,354.81,158.01,356.45,161.27,357.00C164.54,357.55,167.80,357.00,171.06,357.00C174.33,357.00,177.59,357.55,180.85,358.30C184.12,359.05,187.38,360.01,190.64,360.10C193.91,360.19,197.17,359.42,200.43,359.40C203.70,359.38,206.96,360.11,210.22,360.50C213.49,360.89,216.75,360.94,220.02,360.90C223.28,360.86,226.54,360.71,229.81,359.80C233.07,358.89,236.33,357.20,239.60,357.30C242.86,357.40,246.12,359.27,249.39,359.70C252.65,360.13,255.91,359.12,259.18,359.20C262.44,359.28,265.70,360.45,268.97,361.20C272.23,361.95,275.49,362.30,278.76,362.30C282.02,362.30,285.28,361.96,288.55,362.00C291.81,362.04,295.07,362.44,298.34,362.80C301.60,363.16,304.86,363.46,308.13,363.60C311.39,363.74,314.65,363.71,317.92,363.90C321.18,364.09,324.44,364.50,327.71,364.50C330.97,364.50,334.24,364.11,337.50,363.90C340.76,363.69,344.03,363.67,347.29,363.90C350.55,364.13,353.82,364.60,357.08,365.90C360.34,367.20,363.61,369.31,366.87,370.20C370.13,371.09,373.40,370.74,376.66,370.60C379.92,370.46,383.19,370.52,386.45,370.60C389.71,370.68,392.98,370.78,396.24,370.60C399.50,370.42,402.77,369.96,406.03,369.80C409.29,369.64,412.56,369.79,415.82,369.80C419.08,369.81,422.35,369.68,425.61,369.80C428.87,369.92,432.14,370.31,435.40,370.00C438.66,369.69,441.93,368.70,445.19,368.60C448.46,368.50,451.72,369.30,454.98,369.50C458.25,369.70,461.51,369.30,464.77,369.50C468.04,369.70,471.30,370.51,474.56,371.50C477.83,372.49,481.09,373.67,484.35,374.30C487.62,374.93,490.88,375.03,494.14,374.90C497.41,374.77,500.67,374.43,503.93,374.20C507.20,373.97,510.46,373.86,513.72,373.80C516.99,373.74,520.25,373.72,523.51,373.30C526.78,372.88,530.04,372.04,533.30,372.00C536.57,371.96,539.83,372.71,543.09,372.70C546.36,372.69,549.62,371.93,552.88,371.70C556.15,371.47,559.41,371.78,562.67,371.70C565.94,371.62,569.20,371.14,572.47,370.60C575.73,370.06,578.99,369.45,582.26,368.60C585.52,367.75,588.78,366.66,592.05,366.30C595.31,365.94,598.57,366.31,601.84,366.00C605.10,365.69,608.36,364.69,611.63,364.30C614.89,363.91,618.15,364.13,621.42,363.80C624.68,363.47,627.94,362.59,631.21,362.50C634.47,362.41,637.73,363.11,641.00,363.20C644.26,363.29,647.52,362.77,650.79,362.50C654.05,362.23,657.31,362.22,660.58,362.00C663.84,361.78,667.10,361.36,670.37,360.90C673.63,360.44,676.89,359.96,680.16,359.20C683.42,358.44,686.69,357.42,689.95,356.40C693.21,355.38,696.48,354.38,699.74,353.60C703.00,352.82,706.27,352.26,709.53,352.40C712.79,352.54,716.06,353.38,719.32,353.60C722.58,353.82,725.85,353.42,729.11,352.80C732.37,352.18,735.64,351.34,738.90,350.50" fill="none" stroke="#575757" stroke-width="2" stroke-linejoin="round" stroke-linecap="round"/>
<g fill="#575757"><circle cx="34.00" cy="293.10" r="1.5"/><circle cx="43.79" cy="293.10" r="1.5"/><circle cx="53.58" cy="296.20" r="1.5"/><circle cx="63.37" cy="308.00" r="1.5"/><circle cx="73.16" cy="305.90" r="1.5"/><circle cx="82.95" cy="309.20" r="1.5"/><circle cx="92.74" cy="310.80" r="1.5"/><circle cx="102.53" cy="311.10" r="1.5"/><circle cx="112.32" cy="311.90" r="1.5"/><circle cx="122.11" cy="316.60" r="1.5"/><circle cx="131.90" cy="321.00" r="1.5"/><circle cx="141.69" cy="357.80" r="1.5"/><circle cx="151.48" cy="357.00" r="1.5"/><circle cx="161.27" cy="357.00" r="1.5"/><circle cx="171.06" cy="357.00" r="1.5"/><circle cx="180.85" cy="358.30" r="1.5"/><circle cx="190.64" cy="360.10" r="1.5"/><circle cx="200.43" cy="359.40" r="1.5"/><circle cx="210.22" cy="360.50" r="1.5"/><circle cx="220.02" cy="360.90" r="1.5"/><circle cx="229.81" cy="359.80" r="1.5"/><circle cx="239.60" cy="357.30" r="1.5"/><circle cx="249.39" cy="359.70" r="1.5"/><circle cx="259.18" cy="359.20" r="1.5"/><circle cx="268.97" cy="361.20" r="1.5"/><circle cx="278.76" cy="362.30" r="1.5"/><circle cx="288.55" cy="362.00" r="1.5"/><circle cx="298.34" cy="362.80" r="1.5"/><circle cx="308.13" cy="363.60" r="1.5"/><circle cx="317.92" cy="363.90" r="1.5"/><circle cx="327.71" cy="364.50" r="1.5"/><circle cx="337.50" cy="363.90" r="1.5"/><circle cx="347.29" cy="363.90" r="1.5"/><circle cx="357.08" cy="365.90" r="1.5"/><circle cx="366.87" cy="370.20" r="1.5"/><circle cx="376.66" cy="370.60" r="1.5"/><circle cx="386.45" cy="370.60" r="1.5"/><circle cx="396.24" cy="370.60" r="1.5"/><circle cx="406.03" cy="369.80" r="1.5"/><circle cx="415.82" cy="369.80" r="1.5"/><circle cx="425.61" cy="369.80" r="1.5"/><circle cx="435.40" cy="370.00" r="1.5"/><circle cx="445.19" cy="368.60" r="1.5"/><circle cx="454.98" cy="369.50" r="1.5"/><circle cx="464.77" cy="369.50" r="1.5"/><circle cx="474.56" cy="371.50" r="1.5"/><circle cx="484.35" cy="374.30" r="1.5"/><circle cx="494.14" cy="374.90" r="1.5"/><circle cx="503.93" cy="374.20" r="1.5"/><circle cx="513.72" cy="373.80" r="1.5"/><circle cx="523.51" cy="373.30" r="1.5"/><circle cx="533.30" cy="372.00" r="1.5"/><circle cx="543.09" cy="372.70" r="1.5"/><circle cx="552.88" cy="371.70" r="1.5"/><circle cx="562.67" cy="371.70" r="1.5"/><circle cx="572.47" cy="370.60" r="1.5"/><circle cx="582.26" cy="368.60" r="1.5"/><circle cx="592.05" cy="366.30" r="1.5"/><circle cx="601.84" cy="366.00" r="1.5"/><circle cx="611.63" cy="364.30" r="1.5"/><circle cx="621.42" cy="363.80" r="1.5"/><circle cx="631.21" cy="362.50" r="1.5"/><circle cx="641.00" cy="363.20" r="1.5"/><circle cx="650.79" cy="362.50" r="1.5"/><circle cx="660.58" cy="362.00" r="1.5"/><circle cx="670.37" cy="360.90" r="1.5"/><circle cx="680.16" cy="359.20" r="1.5"/><circle cx="689.95" cy="356.40" r="1.5"/><circle cx="699.74" cy="353.60" r="1.5"/><circle cx="709.53" cy="352.40" r="1.5"/><circle cx="719.32" cy="353.60" r="1.5"/><circle cx="729.11" cy="352.80" r="1.5"/><circle cx="738.90" cy="350.50" r="1.5"/></g>
<path d="M34.00,353.56C37.26,353.84,40.53,354.12,43.79,354.20C47.05,354.28,50.32,354.14,53.58,354.20C56.84,354.26,60.11,354.50,63.37,354.66C66.63,354.82,69.90,354.90,73.16,355.40C76.42,355.90,79.69,356.84,82.95,357.80C86.21,358.76,89.48,359.75,92.74,360.10C96.01,360.45,99.27,360.15,102.53,359.80C105.80,359.45,109.06,359.04,112.32,358.90C115.59,358.76,118.85,358.90,122.11,358.90C125.38,358.90,128.64,358.75,131.90,360.10C135.17,361.45,138.43,364.28,141.69,365.20C144.96,366.12,148.22,365.12,151.48,364.80C154.75,364.48,158.01,364.82,161.27,365.20C164.54,365.58,167.80,365.99,171.06,366.10C174.33,366.21,177.59,366.01,180.85,366.40C184.12,366.79,187.38,367.76,190.64,368.00C193.91,368.24,197.17,367.73,200.43,367.70C203.70,367.67,206.96,368.10,210.22,368.30C213.49,368.50,216.75,368.47,220.02,368.30C223.28,368.13,226.54,367.83,229.81,367.80C233.07,367.77,236.33,368.02,239.60,368.00C242.86,367.98,246.12,367.69,249.39,368.00C252.65,368.31,255.91,369.21,259.18,368.30C262.44,367.39,265.70,364.68,268.97,362.80C272.23,360.92,275.49,359.89,278.76,359.20C282.02,358.51,285.28,358.16,288.55,357.30C291.81,356.44,295.07,355.06,298.34,353.90C301.60,352.74,304.86,351.79,308.13,350.70C311.39,349.61,314.65,348.38,317.92,347.90C321.18,347.42,324.44,347.69,327.71,345.50C330.97,343.31,334.24,338.66,337.50,335.50C340.76,332.34,344.03,330.68,347.29,329.50C350.55,328.32,353.82,327.64,357.08,323.50C360.34,319.36,363.61,311.77,366.87,304.50C370.13,297.23,373.40,290.30,376.66,287.00C379.92,283.70,383.19,284.04,386.45,282.60C389.71,281.16,392.98,277.93,396.24,272.90C399.50,267.87,402.77,261.06,406.03,258.00C409.29,254.94,412.56,255.65,415.82,254.40C419.08,253.15,422.35,249.93,425.61,249.70C428.87,249.47,432.14,252.22,435.40,252.20C438.66,252.18,441.93,249.38,445.19,251.30C448.46,253.22,451.72,259.85,454.98,263.50C458.25,267.15,461.51,267.81,464.77,270.10C468.04,272.39,471.30,276.30,474.56,277.30C477.83,278.30,481.09,276.38,484.35,277.30C487.62,278.22,490.88,281.98,494.14,285.10C497.41,288.22,500.67,290.71,503.93,290.50C507.20,290.29,510.46,287.37,513.72,291.70C516.99,296.03,520.25,307.62,523.51,311.80C526.78,315.98,530.04,312.74,533.30,316.00C536.57,319.26,539.83,329.03,543.09,331.50C546.36,333.97,549.62,329.13,552.88,327.60C556.15,326.07,559.41,327.84,562.67,327.90C565.94,327.96,569.20,326.31,572.47,324.80C575.73,323.29,578.99,321.91,582.26,322.10C585.52,322.29,588.78,324.05,592.05,325.30C595.31,326.55,598.57,327.29,601.84,327.60C605.10,327.91,608.36,327.77,611.63,327.60C614.89,327.43,618.15,327.21,621.42,327.90C624.68,328.59,627.94,330.17,631.21,331.60C634.47,333.03,637.73,334.30,641.00,334.50C644.26,334.70,647.52,333.84,650.79,333.80C654.05,333.76,657.31,334.55,660.58,334.10C663.84,333.65,667.10,331.98,670.37,331.40C673.63,330.82,676.89,331.35,680.16,332.30C683.42,333.25,686.69,334.62,689.95,333.40C693.21,332.18,696.48,328.35,699.74,328.00C703.00,327.65,706.27,330.76,709.53,331.80C712.79,332.84,716.06,331.80,719.32,330.80C722.58,329.80,725.85,328.84,729.11,328.00C732.37,327.16,735.64,326.43,738.90,325.70" fill="none" stroke="#138671" stroke-width="2" stroke-linejoin="round" stroke-linecap="round"/>
<g fill="#138671"><circle cx="34.00" cy="353.56" r="1.5"/><circle cx="43.79" cy="354.20" r="1.5"/><circle cx="53.58" cy="354.20" r="1.5"/><circle cx="63.37" cy="354.66" r="1.5"/><circle cx="73.16" cy="355.40" r="1.5"/><circle cx="82.95" cy="357.80" r="1.5"/><circle cx="92.74" cy="360.10" r="1.5"/><circle cx="102.53" cy="359.80" r="1.5"/><circle cx="112.32" cy="358.90" r="1.5"/><circle cx="122.11" cy="358.90" r="1.5"/><circle cx="131.90" cy="360.10" r="1.5"/><circle cx="141.69" cy="365.20" r="1.5"/><circle cx="151.48" cy="364.80" r="1.5"/><circle cx="161.27" cy="365.20" r="1.5"/><circle cx="171.06" cy="366.10" r="1.5"/><circle cx="180.85" cy="366.40" r="1.5"/><circle cx="190.64" cy="368.00" r="1.5"/><circle cx="200.43" cy="367.70" r="1.5"/><circle cx="210.22" cy="368.30" r="1.5"/><circle cx="220.02" cy="368.30" r="1.5"/><circle cx="229.81" cy="367.80" r="1.5"/><circle cx="239.60" cy="368.00" r="1.5"/><circle cx="249.39" cy="368.00" r="1.5"/><circle cx="259.18" cy="368.30" r="1.5"/><circle cx="268.97" cy="362.80" r="1.5"/><circle cx="278.76" cy="359.20" r="1.5"/><circle cx="288.55" cy="357.30" r="1.5"/><circle cx="298.34" cy="353.90" r="1.5"/><circle cx="308.13" cy="350.70" r="1.5"/><circle cx="317.92" cy="347.90" r="1.5"/><circle cx="327.71" cy="345.50" r="1.5"/><circle cx="337.50" cy="335.50" r="1.5"/><circle cx="347.29" cy="329.50" r="1.5"/><circle cx="357.08" cy="323.50" r="1.5"/><circle cx="366.87" cy="304.50" r="1.5"/><circle cx="376.66" cy="287.00" r="1.5"/><circle cx="386.45" cy="282.60" r="1.5"/><circle cx="396.24" cy="272.90" r="1.5"/><circle cx="406.03" cy="258.00" r="1.5"/><circle cx="415.82" cy="254.40" r="1.5"/><circle cx="425.61" cy="249.70" r="1.5"/><circle cx="435.40" cy="252.20" r="1.5"/><circle cx="445.19" cy="251.30" r="1.5"/><circle cx="454.98" cy="263.50" r="1.5"/><circle cx="464.77" cy="270.10" r="1.5"/><circle cx="474.56" cy="277.30" r="1.5"/><circle cx="484.35" cy="277.30" r="1.5"/><circle cx="494.14" cy="285.10" r="1.5"/><circle cx="503.93" cy="290.50" r="1.5"/><circle cx="513.72" cy="291.70" r="1.5"/><circle cx="523.51" cy="311.80" r="1.5"/><circle cx="533.30" cy="316.00" r="1.5"/><circle cx="543.09" cy="331.50" r="1.5"/><circle cx="552.88" cy="327.60" r="1.5"/><circle cx="562.67" cy="327.90" r="1.5"/><circle cx="572.47" cy="324.80" r="1.5"/><circle cx="582.26" cy="322.10" r="1.5"/><circle cx="592.05" cy="325.30" r="1.5"/><circle cx="601.84" cy="327.60" r="1.5"/><circle cx="611.63" cy="327.60" r="1.5"/><circle cx="621.42" cy="327.90" r="1.5"/><circle cx="631.21" cy="331.60" r="1.5"/><circle cx="641.00" cy="334.50" r="1.5"/><circle cx="650.79" cy="333.80" r="1.5"/><circle cx="660.58" cy="334.10" r="1.5"/><circle cx="670.37" cy="331.40" r="1.5"/><circle cx="680.16" cy="332.30" r="1.5"/><circle cx="689.95" cy="333.40" r="1.5"/><circle cx="699.74" cy="328.00" r="1.5"/><circle cx="709.53" cy="331.80" r="1.5"/><circle cx="719.32" cy="330.80" r="1.5"/><circle cx="729.11" cy="328.00" r="1.5"/><circle cx="738.90" cy="325.70" r="1.5"/></g>
<rect x="8" y="41.7" width="12" height="1.8" fill="#c71e1d"/>
<text x="23.5" y="46.3" class="lg" textLength="38.1" lengthAdjust="spacingAndGlyphs">A Coruña</text>
<rect x="68.7" y="41.7" width="12" height="1.8" fill="#fa8c00"/>
<text x="84" y="46.3" class="lg" textLength="19.0" lengthAdjust="spacingAndGlyphs">Vigo</text>
<rect x="109.6" y="41.7" width="12" height="1.8" fill="#575757"/>
<text x="125" y="46.3" class="lg" textLength="37.0" lengthAdjust="spacingAndGlyphs">Santiago</text>
<rect x="168.9" y="41.7" width="12" height="1.8" fill="#1d81a2"/>
<text x="184.6" y="46.3" class="lg" textLength="46.5" lengthAdjust="spacingAndGlyphs">Pontevedra</text>
<rect x="238.3" y="41.7" width="12" height="1.8" fill="#15607a"/>
<text x="253.7" y="46.3" class="lg" textLength="33.3" lengthAdjust="spacingAndGlyphs">Ourense</text>
<rect x="293.9" y="41.7" width="12" height="1.8" fill="#138671"/>
<text x="309.6" y="46.3" class="lg" textLength="20.0" lengthAdjust="spacingAndGlyphs">Lugo</text>
<rect x="335.9" y="41.7" width="12" height="1.8" fill="#1fd8a4"/>
<text x="351.7" y="46.3" class="lg" textLength="23.2" lengthAdjust="spacingAndGlyphs">Ferrol</text>
<text x="8" y="22.7" class="ti" textLength="431" lengthAdjust="spacingAndGlyphs">Coronavirus, casos activos por áreas sanitarias de Galicia</text>
<text x="8" y="419.3" class="no" textLength="311.5" lengthAdjust="spacingAndGlyphs">Datos a partir del 1 de junio para facilitar la claridad de las líneas de cada área</text>
<text x="8" y="432.9" class="cr" textLength="358" lengthAdjust="spacingAndGlyphs">Chart: WWW.GALICIAPRESS.ES • Source: Consellería de Sanidade • Created with Datawrapper</text>
</svg>
</body></html>
